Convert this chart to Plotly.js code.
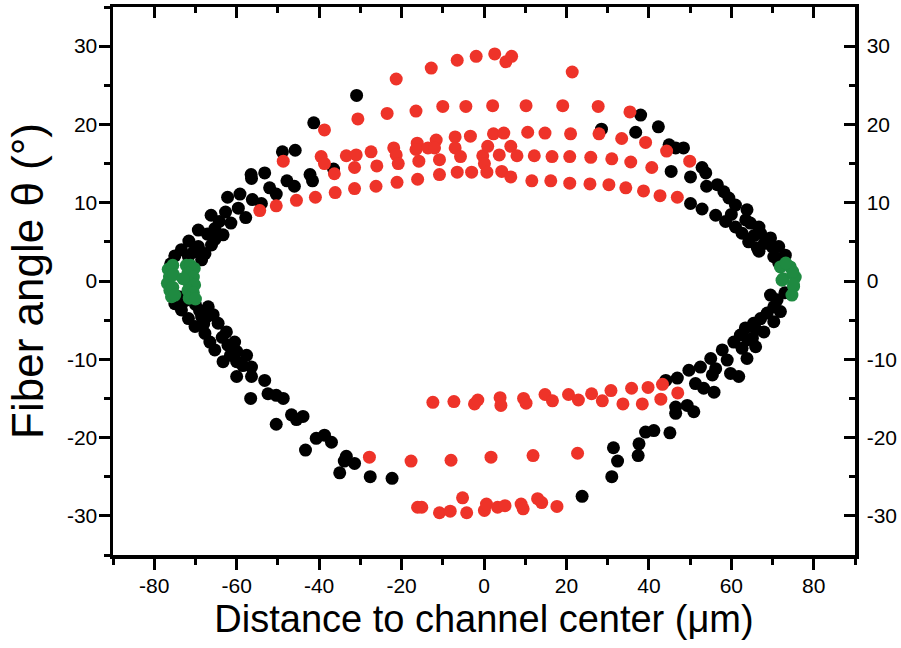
<!DOCTYPE html>
<html>
<head>
<meta charset="utf-8">
<script src="https://cdn.plot.ly/plotly-3.0.1.min.js"></script>
<style>html,body{margin:0;padding:0;background:#fff;}#chart{width:901px;height:648px;}</style>
</head>
<body>
<div id="chart"></div>
<script>
// Black series (distance µm, angle °)
const blackX = [-41.3,-30.9,-48.9,-45.8,-36.5,-42.2,-41.6,-47.8,-46.0,-53.2,-56.5,-56.4,-52.0,-50.4,-54.0,-59.2,-62.2,-56.2,-59.6,-57.8,-62.7,-66.2,-64.2,-61.4,-69.3,-65.3,-63.3,-67.1,-71.6,-69.3,-66.1,-65.3,-73.4,-70.5,-67.7,-75.0,-71.7,-68.5,-76.0,
  -75.0,-73.4,-71.7,-70.1,-66.9,-65.7,-64.5,-62.5,-60.5,-68.5,-67.7,-66.5,-65.3,-63.3,-62.1,-60.0,-57.6,-60.0,-60.0,-56.4,-56.4,-53.2,-52.4,-50.4,-48.7,-56.6,-46.7,-43.9,-45.5,-50.4,-40.7,-38.7,-37.0,-43.3,-33.4,-33.9,-31.4,-35.0,-27.6,-22.3,23.8,
  -72.5,-70.0,-69.0,-71.0,-68.0,-63.5,-61.5,-58.5,-74.0,-67.0,
  38.0,28.5,36.8,42.3,44.9,46.5,48.4,45.4,50.1,52.9,53.8,54.0,56.6,58.2,59.4,61.0,63.8,50.1,52.9,56.2,58.6,61.0,62.6,64.6,66.7,67.1,64.2,66.3,69.5,69.9,71.5,73.1,70.3,71.5,66.7,63.5,65.5,68.0,60.0,
  71.1,70.3,68.7,71.9,67.1,70.3,65.4,63.4,67.9,62.2,65.1,60.6,65.9,62.6,57.8,59.0,63.8,55.0,52.5,56.2,55.4,59.8,61.8,49.7,46.9,44.1,51.3,53.3,55.8,46.5,46.5,49.3,50.9,39.2,41.2,45.1,37.6,37.4,31.4,32.4,31.0,73.0,69.5,66.0,64.0];
const blackY = [20.2,23.7,16.5,16.7,14.3,13.6,12.8,12.8,12.1,13.8,13.6,13.1,11.9,11.1,9.9,11.1,10.7,10.4,9.3,8.1,8.8,8.4,7.6,7.4,6.5,6.7,5.9,6.0,5.1,4.4,4.6,5.3,4.0,3.7,3.5,3.2,3.1,2.7,2.2,
  -2.9,-3.7,-4.8,-5.8,-3.3,-4.3,-5.4,-6.5,-7.8,-4.6,-6.7,-7.8,-8.8,-10.3,-8.2,-9.0,-9.5,-10.3,-12.2,-11.0,-12.2,-12.7,-14.4,-14.6,-15.0,-15.0,-17.1,-17.3,-17.7,-18.3,-20.1,-19.7,-20.6,-21.6,-22.4,-23.0,-23.3,-24.5,-25.0,-25.2,-27.5,
  -2.5,-3.0,-3.8,-2.2,-5.5,-7.2,-9.5,-10.8,-2.0,-4.5,
  21.2,19.4,19.0,19.7,17.4,17.0,17.0,14.0,13.3,14.5,13.8,12.1,12.3,11.4,10.6,9.7,9.1,9.9,9.2,8.4,7.6,6.9,6.1,7.4,6.9,6.1,5.0,4.2,5.5,4.4,4.4,3.3,3.1,2.3,3.8,7.8,5.8,4.8,8.5,
  -2.4,-3.3,-4.1,-3.9,-4.8,-5.2,-5.4,-6.0,-6.5,-6.9,-7.3,-7.8,-8.4,-8.6,-8.8,-10.1,-9.9,-9.9,-11.0,-11.2,-12.0,-11.8,-12.2,-11.4,-12.4,-12.7,-13.1,-13.7,-14.2,-16.1,-16.9,-15.9,-16.7,-19.3,-19.1,-19.4,-20.8,-22.3,-21.3,-23.0,-25.0,-1.5,-1.8,-6.2,-7.5];

// Red series
const redX = [-21.3,-12.8,-6.5,-1.9,2.6,5.3,6.7,21.4,
  -38.7,-30.6,-23.5,-16.5,-10.0,-4.4,2.1,10.2,19.1,27.7,35.4,
  2.3,4.8,10.6,14.8,21.0,27.9,33.4,39.2,44.3,49.9,-7.0,-3.3,-11.6,
  -48.7,-39.5,-38.7,-36.3,-33.4,-31.0,-31.4,-27.4,-26.0,-21.9,-21.3,-20.8,-16.2,-16.5,-15.8,-13.6,-12.0,-10.8,-7.0,-5.7,-0.3,0.9,0.1,3.7,6.5,8.0,12.2,16.5,20.8,25.9,31.0,35.6,40.7,
  -54.4,-50.4,-45.5,-40.9,-36.1,-31.4,-26.2,-21.1,-16.1,-10.8,-6.5,-3.0,0.7,4.3,6.5,11.6,16.2,20.8,25.7,30.3,34.4,38.7,42.7,46.9,
  -12.4,-7.3,-2.3,-1.5,3.9,4.1,9.6,10.2,14.8,16.6,20.5,22.9,26.1,28.7,30.8,33.7,35.8,38.4,39.8,42.9,43.3,47.0,
  -27.8,-17.7,-8.0,1.7,11.9,22.7,
  -16.1,-15.1,-10.8,-8.2,-5.2,-4.2,0.1,0.6,3.3,5.1,9.0,9.5,13.0,14.0,17.7];
const redY = [25.8,27.2,28.2,28.7,29.0,28.0,28.7,26.7,
  19.3,20.7,21.4,21.7,22.3,22.3,22.4,22.4,22.4,22.3,21.6,
  18.8,18.9,19.0,18.9,18.8,18.8,18.2,17.7,16.6,15.3,18.4,18.5,18.0,
  15.3,15.9,15.0,13.7,16.0,16.1,14.5,16.5,14.7,17.0,16.1,15.0,17.6,16.8,15.3,17.0,17.0,15.5,17.0,15.9,16.0,17.2,15.0,16.1,17.2,16.0,16.0,15.9,15.9,15.8,15.6,15.2,14.5,
  9.0,9.6,10.3,10.7,11.3,11.8,12.1,12.6,13.0,13.6,13.9,13.9,13.9,14.0,13.3,12.8,12.8,12.5,12.4,12.3,11.9,11.5,10.9,10.7,
  -15.5,-15.4,-15.7,-15.2,-14.9,-15.9,-15.0,-15.6,-14.5,-15.3,-14.5,-15.2,-14.4,-15.3,-14.0,-15.7,-13.7,-15.7,-13.6,-15.1,-13.2,-14.3,
  -22.5,-23.0,-22.9,-22.5,-22.3,-22.0,
  -28.9,-28.9,-29.6,-29.4,-27.7,-29.6,-29.3,-28.5,-28.9,-28.7,-28.5,-29.1,-27.8,-28.3,-28.8];

// Green series
const greenX = [-76.6,-76.3,-76.8,-76.2,-75.8,-75.5,-75.3,-75.5,-75.0,
  -72.2,-71.2,-70.3,-71.8,-70.5,-71.6,-70.2,-71.8,-70.5,-71.5,-70.0,-73.0,
  71.9,72.6,74.3,75.5,75.1,74.7,72.3,75.1,74.9,73.2];
const greenY = [1.5,0.5,-0.3,-1.2,-2.0,2.0,0.8,-0.8,-1.8,
  2.0,2.0,1.6,1.0,0.5,-0.2,-0.5,-1.2,-1.5,-2.2,-2.3,0.3,
  1.8,0.3,1.8,0.5,-0.7,-1.8,0.1,-0.5,1.2,2.3];

const xTicks = [-80,-60,-40,-20,0,20,40,60,80];
const yTicks = [-30,-20,-10,0,10,20,30];
const xRange = [-90, 90];
const yRange = [-35, 35];

const FONT = 'Arial, "Liberation Sans", sans-serif';
const mk = (c) => ({size: 13, color: c, line: {width: 0}});

const traces = [
  {x: blackX, y: blackY, type: 'scatter', mode: 'markers', marker: mk('#000000'), showlegend: false},
  {x: redX, y: redY, type: 'scatter', mode: 'markers', marker: mk('#EE3329'), showlegend: false},
  {x: greenX, y: greenY, type: 'scatter', mode: 'markers', marker: mk('#1F8A41'), showlegend: false},
  {x: [], y: [], xaxis: 'x2', yaxis: 'y2', type: 'scatter', mode: 'markers', showlegend: false}
];

const common = {
  showline: true, linecolor: '#000', linewidth: 3.5, showgrid: false, zeroline: false,
  tickcolor: '#000', tickwidth: 3, ticklen: 11,
  tickfont: {family: FONT, size: 21, color: '#000'}
};

const layout = {
  width: 901, height: 648,
  margin: {l: 113, r: 46, t: 7, b: 93},
  paper_bgcolor: '#fff', plot_bgcolor: '#fff',
  showlegend: false,
  xaxis: Object.assign({}, common, {
    range: xRange, tickvals: xTicks, ticktext: xTicks.map(String), ticks: 'outside', side: 'bottom',
    ticklabelstandoff: -2,
    minor: {dtick: 10, tick0: 0, ticks: 'outside', ticklen: 6, tickwidth: 3, tickcolor: '#000'},
    title: {text: 'Distance to channel center (μm)', font: {family: FONT, size: 38, color: '#000'}, standoff: 10}
  }),
  yaxis: Object.assign({}, common, {
    range: yRange, tickvals: yTicks, ticktext: yTicks.map(String), ticks: 'outside', side: 'left',
    ticklabelstandoff: -3,
    minor: {dtick: 5, tick0: 0, ticks: 'outside', ticklen: 6, tickwidth: 3, tickcolor: '#000'},
    title: {text: 'Fiber angle θ (°)', font: {family: FONT, size: 44, color: '#000'}, standoff: 10}
  }),
  xaxis2: Object.assign({}, common, {
    range: xRange, tickvals: xTicks, ticks: 'inside', side: 'top', overlaying: 'x', anchor: 'y2',
    showticklabels: false,
    minor: {dtick: 10, tick0: 0, ticks: 'inside', ticklen: 6, tickwidth: 3, tickcolor: '#000'}
  }),
  yaxis2: Object.assign({}, common, {
    range: yRange, tickvals: yTicks, ticktext: yTicks.map(String), ticks: 'inside', side: 'right', overlaying: 'y', anchor: 'x2',
    ticklabelstandoff: 4,
    minor: {dtick: 5, tick0: 0, ticks: 'inside', ticklen: 6, tickwidth: 3, tickcolor: '#000'}
  })
};

Plotly.newPlot('chart', traces, layout, {displayModeBar: false, staticPlot: true});
</script>
</body>
</html>
